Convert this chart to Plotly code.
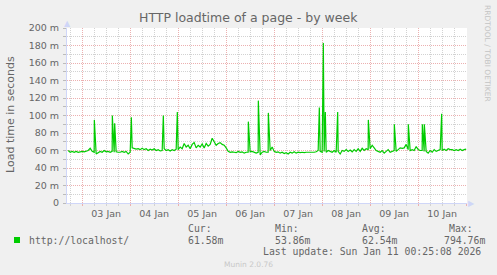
import pandas as pd
import plotly.graph_objects as go

# ---------------- data ----------------
series_name = "http://localhost/"
start_hour = "2026-01-02 17:00"          # first hourly sample
# hourly load time samples (ms), 02 Jan 17:00 .. 11 Jan 00:00
vals_02 = [60, 58, 59, 58, 59, 58, 58.5]
vals_03 = [59, 58.5, 59, 60, 62.5, 59, 58, 56, 58, 59, 58, 60,
           58.5, 59, 58, 59, 58, 58.5, 58, 58, 59, 58, 59, 56]
vals_04 = [58, 63, 62, 61.5, 62, 61, 62.5, 61, 62, 60, 61.5, 60.5,
           62, 60, 61, 59.5, 60, 62, 60, 61, 59.5, 61, 60, 61.5]
vals_05 = [61, 64, 62, 68, 64, 66, 62, 67, 69, 63, 66, 64,
           67.5, 63, 68, 65, 67, 74, 70, 66, 68, 69, 67, 66]
vals_06 = [63, 59, 58, 58.5, 58, 57.5, 59, 58, 58.5, 57, 58, 58,
           58.5, 59, 58, 57, 58, 55, 58, 59, 58, 58, 60, 64]
vals_07 = [59, 58, 58.5, 57, 58, 56.5, 57.5, 56, 58, 57, 58.5, 57,
           58, 57.5, 58, 57.5, 58, 58, 58, 57.5, 58, 58.5, 60, 59]
vals_08 = [58, 59, 58, 60, 59, 58, 60, 58, 59, 56, 60, 59,
           61, 59, 60.5, 58.5, 61, 59, 62, 59, 62.5, 60, 62, 61]
vals_09 = [62, 66, 63, 60, 59, 58, 60, 57, 59, 61, 58, 59.5,
           60, 59, 61, 63, 62.5, 63, 67, 61, 60, 61, 60, 64.5]
vals_10 = [61, 60, 60, 59, 59, 57, 60, 58, 61, 59, 60, 61,
           60, 61.5, 60, 62, 61, 61, 60, 61, 60, 61.5, 60, 61]
vals_11 = [61.58]

# short spikes between the hourly samples
spike_times = ["2026-01-03 06:05", "2026-01-03 15:05", "2026-01-03 16:15",
               "2026-01-04 00:35", "2026-01-04 16:35", "2026-01-04 23:35",
               "2026-01-06 11:05", "2026-01-06 16:05", "2026-01-06 21:05",
               "2026-01-07 22:35", "2026-01-08 00:35", "2026-01-08 01:35",
               "2026-01-08 07:45", "2026-01-08 23:05", "2026-01-09 12:05",
               "2026-01-09 19:05", "2026-01-10 02:05", "2026-01-10 03:05",
               "2026-01-10 11:45"]
spike_vals = [95, 100, 91, 98, 100, 104, 93, 117, 103,
              109, 183, 104, 104, 95, 90, 90, 90, 90, 102]

x_range = ["2026-01-02 16:25", "2026-01-11 00:25"]
day_labels = ["03 Jan", "04 Jan", "05 Jan", "06 Jan", "07 Jan",
              "08 Jan", "09 Jan", "10 Jan"]
day_label_pos = ["2026-01-03 12:00", "2026-01-04 12:00", "2026-01-05 12:00",
                 "2026-01-06 12:00", "2026-01-07 12:00", "2026-01-08 12:00",
                 "2026-01-09 12:00", "2026-01-10 12:00"]
y_ticks = [0, 20, 40, 60, 80, 100, 120, 140, 160, 180, 200]
y_ticktext = ["0", "20 m", "40 m", "60 m", "80 m", "100 m", "120 m",
              "140 m", "160 m", "180 m", "200 m"]
title = "HTTP loadtime of a page - by week"
y_title = "Load time in seconds"
stat_heads = ["Cur:", "Min:", "Avg:", "Max:"]
stat_vals = ["61.58m", "53.86m", "62.54m", "794.76m"]
last_update = "Last update: Sun Jan 11 00:25:08 2026"
footer = "Munin 2.0.76"
side_mark = "RRDTOOL / TOBI OETIKER"

# ---------------- build series ----------------
hourly = vals_02 + vals_03 + vals_04 + vals_05 + vals_06 + vals_07 + vals_08 + vals_09 + vals_10 + vals_11
base = pd.DataFrame({"t": pd.date_range(start_hour, periods=len(hourly), freq="h"),
                     "v": hourly})
spk = pd.DataFrame({"t": pd.to_datetime(spike_times), "v": spike_vals})
df = pd.concat([base, spk]).sort_values("t").reset_index(drop=True)

# ---------------- layout helpers (pixels) ----------------
W, H = 497, 275
L, R, T, B = 67, 467, 28, 203
def px(x):
    return (x - L) / (R - L)
def py(y):
    return (B - y) / (B - T)

GREEN = "#00CC00"
FONT = "#666666"
AXIS = "#CFD6F8"
MGRID = "#ECB0B0"
GRID = "#D2D2D2"
SANS = "DejaVu Sans"
MONO = "DejaVu Sans Mono"

fig = go.Figure()
fig.add_trace(go.Scatter(x=df["t"], y=df["v"], mode="lines",
                         line=dict(color=GREEN, width=1.2),
                         showlegend=False, hoverinfo="skip"))

fig.update_layout(
    width=W, height=H,
    margin=dict(l=L, r=W - R, t=T, b=H - B, pad=0),
    paper_bgcolor="#F0F0F0", plot_bgcolor="#FFFFFF",
    font=dict(family=SANS, size=9.5, color=FONT),
    showlegend=False,
    xaxis=dict(type="date", range=x_range, tickmode="array",
               tickvals=day_label_pos, ticktext=day_labels,
               showgrid=False, zeroline=False, ticks="",
               showline=True, linecolor=AXIS, linewidth=1,
               tickfont=dict(family=SANS, size=9.5, color=FONT),
               ticklabelstandoff=2),
    xaxis2=dict(type="date", range=x_range, overlaying="x", side="bottom",
                tickmode="linear", tick0="2026-01-03", dtick=86400000,
                showgrid=True, gridcolor=MGRID, griddash="1px,1px", gridwidth=1,
                showticklabels=False, ticks="outside", ticklen=2, tickcolor=MGRID,
                zeroline=False, showline=False,
                minor=dict(tick0="2026-01-03", dtick=6 * 3600000, showgrid=True,
                           gridcolor=GRID, griddash="1px,1px", gridwidth=1,
                           ticks="outside", ticklen=2, tickcolor=GRID)),
    yaxis=dict(range=[0, 200], tickmode="array", tickvals=y_ticks,
               ticktext=y_ticktext, showgrid=True, gridcolor=MGRID,
               griddash="1px,1px", zeroline=False,
               showline=True, linecolor=AXIS, linewidth=1,
               ticks="outside", ticklen=3, tickcolor="#BBBBBB",
               tickfont=dict(family=SANS, size=9.5, color=FONT),
               ticklabelstandoff=2,
               minor=dict(dtick=10, tick0=0, showgrid=True, gridcolor=GRID,
                          griddash="1px,1px", ticks="outside", ticklen=3,
                          tickcolor="#BBBBBB")),
)

# dummy trace so the overlaying grid axis is rendered
fig.add_trace(go.Scatter(x=[x_range[0]], y=[0], xaxis="x2", mode="markers",
                         marker=dict(opacity=0), showlegend=False, hoverinfo="skip"))

ann = []
def text(x, y, s, size, xanchor="left", color=FONT, family=SANS, angle=0):
    ann.append(dict(x=px(x), y=py(y), xref="paper", yref="paper", text=s,
                    showarrow=False, xanchor=xanchor, yanchor="middle",
                    textangle=angle, font=dict(family=family, size=size, color=color)))

text(248.5, 17.5, title, 12.5, xanchor="center")
text(10, 115, y_title, 11, xanchor="center", angle=-90)
text(488, 53, side_mark, 7.5, xanchor="center", color="#C4C4C4", angle=90)
text(67, 23.5, "▲", 8, xanchor="center", color=AXIS)
text(471.5, 203, "▶", 8, xanchor="center", color=AXIS)

text(26.5, 240, series_name, 9.8, family=MONO)
head_x = [185.5, 272.5, 360, 447.3]
val_x = [185.5, 272.5, 360, 441.7]
for hx, vx, h_, v_ in zip(head_x, val_x, stat_heads, stat_vals):
    text(hx, 228.5, h_, 9.8, family=MONO)
    text(vx, 240, v_, 9.8, family=MONO)
text(483, 251, last_update, 9.8, xanchor="right", family=MONO)
text(248, 264, footer, 7.5, xanchor="center", color="#C8C8C8")
fig.update_layout(annotations=ann)

fig.add_shape(type="rect", xref="paper", yref="paper",
              x0=px(14), x1=px(20), y0=py(237), y1=py(243),
              fillcolor=GREEN, line=dict(width=0))

fig.write_html("out.html")
